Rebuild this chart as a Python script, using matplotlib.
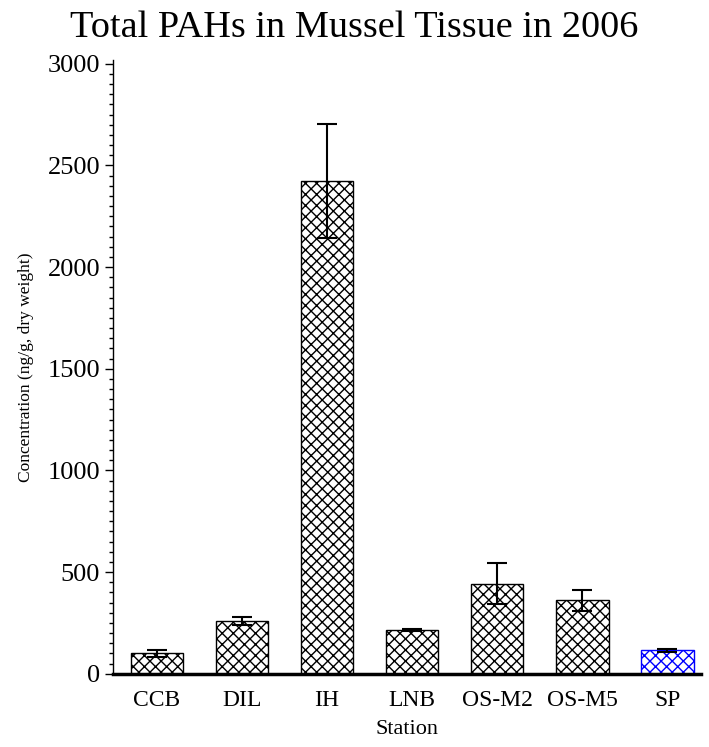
import matplotlib.pyplot as plt
import numpy as np

stations = ['CCB', 'DIL', 'IH', 'LNB', 'OS-M2', 'OS-M5', 'SP']
conc = [102, 258, 2425, 214, 443, 362, 115]
err = [17, 20, 280, 5, 102, 51, 6]
edge_colors = ['black'] * 6 + ['blue']

plt.rcParams['font.family'] = ['Liberation Serif', 'DejaVu Serif']
plt.rcParams['hatch.linewidth'] = 1.0

fig = plt.figure(figsize=(7.09, 7.47), dpi=100)
ax = fig.add_axes([0.159, 0.098, 0.83, 0.822])

x = np.arange(len(stations))
for i in range(len(stations)):
    ax.bar(x[i], conc[i], width=0.62, color='white', edgecolor=edge_colors[i],
           hatch='xxx', linewidth=1.0)
ax.errorbar(x, conc, yerr=err, fmt='none', ecolor='black', elinewidth=1.5,
            capsize=7, capthick=1.5)

ax.set_xlim(-0.52, 6.4)
ax.set_ylim(0, 3020)
ax.set_yticks([0, 500, 1000, 1500, 2000, 2500, 3000])
ax.set_yticks(np.arange(0, 3001, 50), minor=True)
ax.set_xticks(x)
ax.set_xticklabels(stations, fontsize=17)
ax.tick_params(axis='x', length=0, pad=12)
ax.tick_params(axis='y', labelsize=19, length=6, width=1, pad=3)
ax.tick_params(axis='y', which='minor', length=3, width=1)
ax.spines['top'].set_visible(False)
ax.spines['right'].set_visible(False)
ax.spines['bottom'].set_linewidth(2.5)
ax.spines['left'].set_linewidth(1)

ax.set_xlabel('Station', fontsize=16, labelpad=6)
ax.set_ylabel('Concentration (ng/g, dry weight)', fontsize=12.5, labelpad=10)
fig.text(0.5, 0.951, 'Total PAHs in Mussel Tissue in 2006', fontsize=27.5,
         ha='center', va='baseline')

fig.savefig('out.png', dpi=100)
